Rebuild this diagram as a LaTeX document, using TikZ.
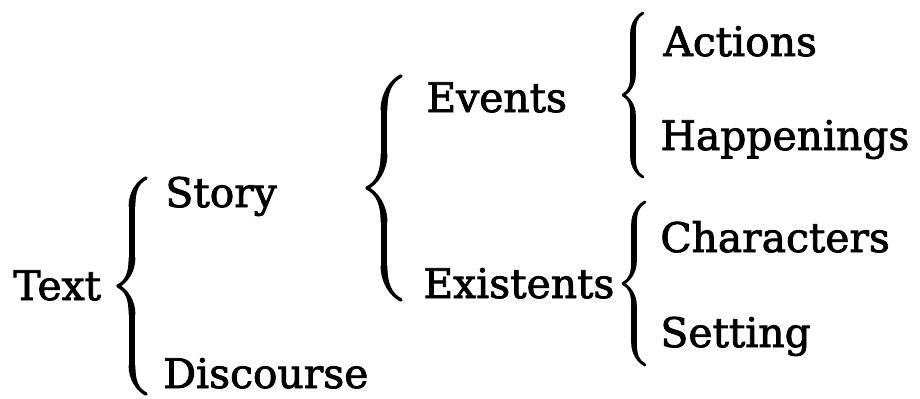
\documentclass[tikz,border=0pt]{standalone}
\usepackage{fontspec}
\setmainfont{DejaVu Serif}
\newfontfamily\termfont[FakeBold=2]{DejaVu Serif}
\usetikzlibrary{decorations.pathreplacing,calligraphy}
\tikzset{
  term/.style={anchor=base west, inner sep=0pt,
    font=\termfont\fontsize{20.4}{24}\selectfont},
  curly/.style={decorate,
    decoration={calligraphic brace, amplitude=#1},
    line width=3.4pt},
  curly/.default=12pt,
}
\begin{document}
\begin{tikzpicture}[x=0.5pt,y=-0.5pt]
\useasboundingbox (0,0) rectangle (920,398);
% the words
\node[term] (text) at (13,300) {Text};
\node[term] (story) at (165,207) {Story};
\node[term] (discourse) at (163,388) {Discourse};
\node[term] (events) at (426,112) {Events};
\node[term] (existents) at (423,298) {Existents};
\node[term] (actions) at (663,56) {Actions};
\node[term] (happenings) at (660,150) {Happenings};
\node[term] (characters) at (660,252) {Characters};
\node[term] (setting) at (660,347) {Setting};
% ends of the braces
\coordinate (textTop) at (146,178);
\coordinate (textBot) at (146,394);
\coordinate (storyTop) at (401,76);
\coordinate (storyBot) at (401,300);
\coordinate (eventsTop) at (643,13);
\coordinate (eventsBot) at (643,177);
\coordinate (existTop) at (645,202);
\coordinate (existBot) at (645,365);
% braces
\draw[curly=14pt] (textBot) -- (textTop);
\draw[curly=17pt] (storyBot) -- (storyTop);
\draw[curly=10pt,line width=2.8pt] (eventsBot) -- (eventsTop);
\draw[curly=11pt,line width=2.8pt] (existBot) -- (existTop);
\end{tikzpicture}
\end{document}
